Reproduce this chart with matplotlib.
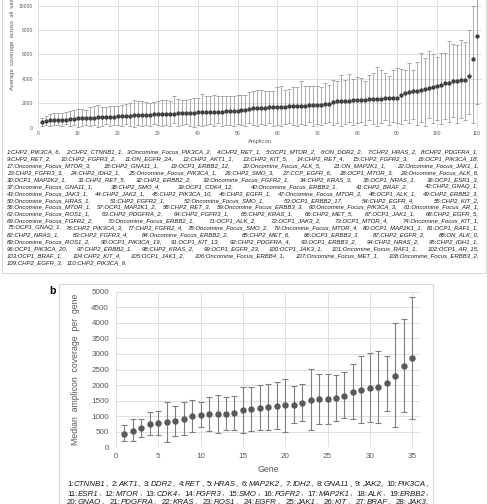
import matplotlib
matplotlib.use('Agg')
import matplotlib.pyplot as plt
from matplotlib.transforms import IdentityTransform
from matplotlib.patches import Rectangle

plt.rcParams['font.family'] = ['Liberation Sans', 'DejaVu Sans']

W, H, DPI = 487, 504, 100

# ---- panel a: average coverage per amplicon ----
amplicon_mean = [
    440, 580, 600, 640, 650, 660, 670, 700, 730, 760,
    780, 800, 810, 830, 850, 870, 890, 900, 910, 920,
    940, 960, 990, 1020, 1040, 1060, 1070, 1080, 1090, 1100,
    1120, 1140, 1150, 1160, 1170, 1180, 1190, 1210, 1230, 1250,
    1260, 1270, 1280, 1290, 1300, 1320, 1340, 1350, 1370, 1390,
    1410, 1430, 1570, 1590, 1600, 1620, 1640, 1660, 1680, 1700,
    1720, 1730, 1750, 1760, 1780, 1790, 1810, 1830, 1850, 1870,
    1890, 1910, 1930, 2130, 2150, 2170, 2190, 2210, 2230, 2260,
    2280, 2300, 2320, 2340, 2360, 2380, 2400, 2420, 2440, 2470,
    2700, 2880, 2930, 2980, 3040, 3130, 3180, 3220, 3300, 3400,
    3480, 3640, 3680, 3790, 3820, 3880, 3930, 4250, 5600, 7540]
amplicon_upper = [
    800, 960, 1100, 1220, 1200, 1180, 1320, 1330, 1450, 1520,
    1560, 1450, 1720, 1760, 1850, 1720, 1730, 1780, 1740, 1790,
    1830, 1950, 2000, 2270, 2220, 2160, 2130, 2000, 2100, 2200,
    2230, 2250, 2150, 2600, 2360, 2250, 2300, 2350, 2400, 2450,
    2800, 2600, 2580, 2650, 2620, 2620, 2580, 2560, 2580, 2650,
    2700, 2720, 2950, 3000, 3100, 3050, 3020, 3000, 3030, 3320,
    3450, 3120, 3200, 3300, 3350, 3820, 3450, 3400, 3420, 3450,
    3350, 3700, 3500, 3900, 3800, 4300, 3950, 4400, 4000, 4150,
    4050, 3800, 4300, 4450, 5000, 4700, 4500, 4200, 4750, 4900,
    4850, 4750, 5300, 4750, 5400, 6150, 5700, 6250, 6050, 5800,
    6150, 6150, 7100, 6900, 6750, 7150, 7050, 8000, 9950, 11500]
amplicon_lower = [
    150, 250, 100, 200, 250, 150, 300, 100, 200, 50,
    150, 250, 100, 200, 50, 150, 300, 100, 250, 200,
    100, 300, 150, 50, 200, 100, 250, 150, 300, 200,
    100, 250, 150, 350, 100, 200, 300, 150, 50, 250,
    100, 200, 300, 150, 350, 100, 250, 200, 150, 300,
    200, 100, 400, 250, 150, 300, 200, 350, 100, 250,
    150, 300, 400, 200, 100, 300, 250, 450, 150, 300,
    200, 350, 500, 250, 400, 150, 300, 450, 200, 350,
    500, 250, 600, 300, 150, 400, 650, 250, 500, 350,
    300, 600, 400, 700, 250, 500, 150, 800, 400, 600,
    300, 700, 500, 900, 350, 800, 600, 1100, 400, 1950]
amplicon_names = [
    'CHP2_PIK3CA_6', 'CHP2_CTNNB1_1', 'Oncomine_Focus_PIK3CA_2', 'CHP2_RET_1', 'OCP1_MTOR_2',
    'ON_DDR2_2', 'CHP2_HRAS_2', 'CHP2_PDGFRA_1', 'CHP2_RET_2', 'CHP2_FGFR3_2',
    'ON_EGFR_2A', 'CHP2_AKT1_1', 'CHP2_KIT_5', 'CHP2_RET_4', 'CHP2_FGFR2_3',
    'OCP1_PIK3CA_18', 'Oncomine_Focus_MTOR_3', 'CHP2_GNA11_1', 'OCP1_ERBB2_12', 'Oncomine_Focus_ALK_5',
    'ON_MAP2K1_1', 'Oncomine_Focus_JAK1_1', 'CHP2_FGFR3_3', 'CHP2_IDH2_1', 'Oncomine_Focus_PIK3CA_1',
    'CHP2_SMO_3', 'CCP_EGFR_6', 'OCP1_MTOR_3', 'Oncomine_Focus_ALK_6', 'OCP1_MAP2K2_1',
    'CHP2_RET_5', 'CHP2_ERBB2_2', 'Oncomine_Focus_FGFR2_1', 'CHP2_KRAS_3', 'OCP1_NRAS_1',
    'OCP1_ESR1_3', 'Oncomine_Focus_GNA11_1', 'CHP2_SMO_4', 'OCP1_CDK4_12', 'Oncomine_Focus_ERBB3_1',
    'CHP2_BRAF_2', 'CHP2_GNAQ_1', 'Oncomine_Focus_JAK3_1', 'CHP2_JAK2_1', 'CHP2_PIK3CA_10',
    'CHP2_EGFR_1', 'Oncomine_Focus_MTOR_2', 'OCP1_ALK_1', 'CHP2_ERBB2_3', 'Oncomine_Focus_HRAS_1',
    'CHP2_FGFR2_1', 'Oncomine_Focus_SMO_1', 'OCP1_ERBB2_17', 'CHP2_EGFR_4', 'CHP2_KIT_2',
    'Oncomine_Focus_MTOR_1', 'OCP1_MAP2K1_2', 'CHP2_RET_3', 'Oncomine_Focus_ERBB3_3', 'Oncomine_Focus_PIK3CA_3',
    'Oncomine_Focus_AR_1', 'Oncomine_Focus_ROS1_1', 'CHP2_PDGFRA_2', 'CHP2_FGFR3_1', 'CHP2_KRAS_1',
    'CHP2_MET_5', 'OCP1_JAK1_1', 'CHP2_EGFR_5', 'Oncomine_Focus_FGFR2_2', 'Oncomine_Focus_ERBB2_1',
    'OCP1_ALK_2', 'OCP1_JAK3_2', 'OCP1_MTOR_4', 'Oncomine_Focus_KIT_1', 'OCP1_GNAQ_1',
    'CHP2_PIK3CA_3', 'CHP2_FGFR2_4', 'Oncomine_Focus_SMO_2', 'Oncomine_Focus_MTOR_4', 'OCP1_MAP2K1_1',
    'OCP1_RAF1_1', 'CHP2_NRAS_1', 'CHP2_FGFR3_4', 'Oncomine_Focus_ERBB2_2', 'CHP2_MET_6',
    'OCP1_ERBB3_1', 'CHP2_EGFR_2', 'ON_ALK_0', 'Oncomine_Focus_ROS1_2', 'OCP1_PIK3CA_19',
    'OCP1_KIT_13', 'CHP2_PDGFRA_4', 'OCP1_ERBB3_2', 'CHP2_NRAS_2', 'CHP2_IDH1_1',
    'OCP1_PIK3CA_20', 'CHP2_ERBB2_1', 'CHP2_KRAS_2', 'OCP1_EGFR_23', 'OCP1_JAK3_1',
    'Oncomine_Focus_RAF1_1', 'OCP1_AR_15', 'OCP1_BRAF_1', 'CHP2_KIT_4', 'OCP1_JAK1_2',
    'Oncomine_Focus_ERBB4_1', 'Oncomine_Focus_MET_1', 'Oncomine_Focus_ERBB3_2', 'CHP2_EGFR_3', 'CHP2_PIK3CA_9']
amplicon_rows = [8, 8, 6, 7, 7, 6, 7, 6, 6, 7, 6, 7, 7, 7, 7, 6, 2]

# ---- panel b: median amplicon coverage per gene ----
gene_median = [440, 530, 620, 760, 780, 800, 840, 910, 1000, 1050,
               1070, 1080, 1080, 1100, 1200, 1220, 1260, 1280, 1340, 1350,
               1370, 1430, 1530, 1540, 1540, 1570, 1660, 1780, 1830, 1900,
               1930, 2060, 2300, 2620, 2880]
gene_upper = [730, 910, 910, 1140, 1160, 1440, 1320, 1440, 1510, 1460,
              1620, 1690, 1620, 1660, 1950, 1950, 1990, 2030, 2110, 2210,
              1970, 2020, 2530, 2340, 2340, 2320, 2410, 2670, 2920, 3020,
              3110, 2940, 3980, 4120, 4840]
gene_lower = [190, 190, 330, 380, 400, 180, 360, 410, 490, 640,
              530, 470, 540, 540, 470, 510, 550, 540, 580, 490,
              770, 850, 550, 760, 760, 840, 940, 920, 790, 820,
              790, 1170, 650, 1120, 920]
# only the first 28 gene names are visible in the (cropped) legend text
gene_names = ['CTNNB1', 'AKT1', 'DDR2', 'RET', 'HRAS', 'MAP2K2', 'IDH2', 'GNA11', 'JAK2', 'PIK3CA',
              'ESR1', 'MTOR', 'CDK4', 'FGFR3', 'SMO', 'FGFR2', 'MAP2K1', 'ALK', 'ERBB2',
              'GNAQ', 'PDGFRA', 'KRAS', 'ROS1', 'EGFR', 'JAK1', 'KIT', 'BRAF', 'JAK3']
gene_rows = [10, 9, 9]

GRID = '#d9d9d9'
TICK = '#595959'


def px_box(left, top, right, bottom):
    # pixel box (from top-left) -> figure fraction [l, b, w, h]
    return [left / W, 1 - bottom / H, (right - left) / W, (bottom - top) / H]


def style_axes(ax, size, pad_x, pad_y):
    for s in ax.spines.values():
        s.set_visible(False)
    ax.grid(True, color=GRID, linewidth=0.6)
    ax.set_axisbelow(True)
    ax.tick_params(axis='both', length=0, labelsize=size, colors=TICK)
    ax.tick_params(axis='x', pad=pad_x)
    ax.tick_params(axis='y', pad=pad_y)


def make_items(names, numbered_italic):
    items = []
    for i, n in enumerate(names, start=1):
        if numbered_italic:
            items.append([(f'{i}:{n},', 'italic')])
        else:
            items.append([(f'{i}:', 'normal'), (n, 'italic'), (',', 'normal')])
    return items


def measure(fig, renderer, items, size):
    widths = []
    for item in items:
        w = 0
        for txt, st in item:
            t = fig.text(0, 0, txt, fontsize=size, style=st, transform=IdentityTransform())
            w += t.get_window_extent(renderer).width
            t.remove()
        widths.append(w)
    return widths


def write_block(fig, renderer, items, rows, x0, x1, y0, dy, size, color, justify_last=False):
    idx = 0
    for r, n in enumerate(rows):
        row = items[idx:idx + n]
        idx += n
        y = H - (y0 + r * dy)
        objs = []
        for item in row:
            parts = []
            for txt, st in item:
                t = fig.text(0, y, txt, fontsize=size, style=st, color=color,
                             ha='left', va='center', transform=IdentityTransform())
                parts.append((t, t.get_window_extent(renderer).width))
            objs.append(parts)
        widths = [sum(w for _, w in p) for p in objs]
        space = size * DPI / 72 * 0.55
        if (r < len(rows) - 1 or justify_last) and len(objs) > 1:
            gap = (x1 - x0 - sum(widths)) / (len(objs) - 1)
        else:
            gap = space
        x = x0
        for parts, w in zip(objs, widths):
            for t, pw in parts:
                t.set_x(x)
                x += pw
            x += gap


def fit_size(fig, renderer, items, rows, span, max_size):
    base = 10
    widths = measure(fig, renderer, items, base)
    space = base * DPI / 72 * 0.55
    widest, idx = 0, 0
    for n in rows:
        w = sum(widths[idx:idx + n]) + (n - 1) * space
        widest = max(widest, w)
        idx += n
    return min(max_size, base * span / widest)


fig = plt.figure(figsize=(W / DPI, H / DPI), dpi=DPI)
renderer = fig.canvas.get_renderer()

# frames around the two panels
fig.patches.append(Rectangle((1.5 / W, 1 - 273 / H), 484.5 / W, 273 / H + 0.02,
                             transform=fig.transFigure, fill=False, edgecolor=GRID, linewidth=0.8))
fig.patches.append(Rectangle((59 / W, -0.02), 374 / W, 1 - 284 / H + 0.02,
                             transform=fig.transFigure, fill=False, edgecolor=GRID, linewidth=0.8))

# panel a
ax1 = fig.add_axes(px_box(38, 127.7 - 146.4, 481.7, 127.7))
xa = list(range(1, len(amplicon_mean) + 1))
err_a = [[m - lo for m, lo in zip(amplicon_mean, amplicon_lower)],
         [up - m for m, up in zip(amplicon_mean, amplicon_upper)]]
ax1.errorbar(xa, amplicon_mean, yerr=err_a, fmt='o', color='#3f3f3f', markersize=2.1,
             ecolor='#8c8c8c', elinewidth=0.5, capsize=1.6, capthick=0.5)
ax1.set_xlim(0, 111.2)
ax1.set_ylim(0, 12000)
ax1.set_xticks(range(0, 111, 10))
ax1.set_yticks(range(0, 10001, 2000))
style_axes(ax1, 3.6, 2.4, 3.6)
fig.text(260 / W, 1 - 142 / H, 'Amplicon', fontsize=4.2, color=TICK, ha='center', va='center')
fig.text(13 / W, 1 - 90 / H, 'Average  coverage  across  all  samples', rotation=90,
         fontsize=4.2, color=TICK, ha='center', va='bottom')

items_a = make_items(amplicon_names, True)
size_a = fit_size(fig, renderer, items_a, amplicon_rows, 472, 4.3)
write_block(fig, renderer, items_a, amplicon_rows, 7, 479, 152, 6.9, size_a, '#1a1a1a')

# panel b
ax2 = fig.add_axes(px_box(116, 291.7, 420, 447.3))
xb = list(range(1, len(gene_median) + 1))
err_b = [[m - lo for m, lo in zip(gene_median, gene_lower)],
         [up - m for m, up in zip(gene_median, gene_upper)]]
ax2.errorbar(xb, gene_median, yerr=err_b, fmt='o', color='#595959', markersize=3.6,
             ecolor='#7f7f7f', elinewidth=0.8, capsize=2.4, capthick=0.8)
ax2.set_xlim(0, 35.93)
ax2.set_ylim(0, 5000)
ax2.set_xticks(range(0, 36, 5))
ax2.set_yticks(range(0, 5001, 500))
style_axes(ax2, 5.8, 4.4, 5.0)
fig.text(268 / W, 1 - 470 / H, 'Gene', fontsize=6.3, color=TICK, ha='center', va='center')
fig.text(75 / W, 1 - 369 / H, 'Median  amplicon  coverage  per  gene', rotation=90,
         fontsize=6.3, color=TICK, ha='center', va='center')
fig.text(52 / W, 1 - 291 / H, 'b', fontsize=7.5, fontweight='bold', ha='center', va='center')

items_b = make_items(gene_names, False)
size_b = fit_size(fig, renderer, items_b, gene_rows, 361, 6.0)
write_block(fig, renderer, items_b, gene_rows, 67, 428, 485, 9, size_b, '#1a1a1a', justify_last=True)

fig.savefig('out.png', dpi=DPI)
